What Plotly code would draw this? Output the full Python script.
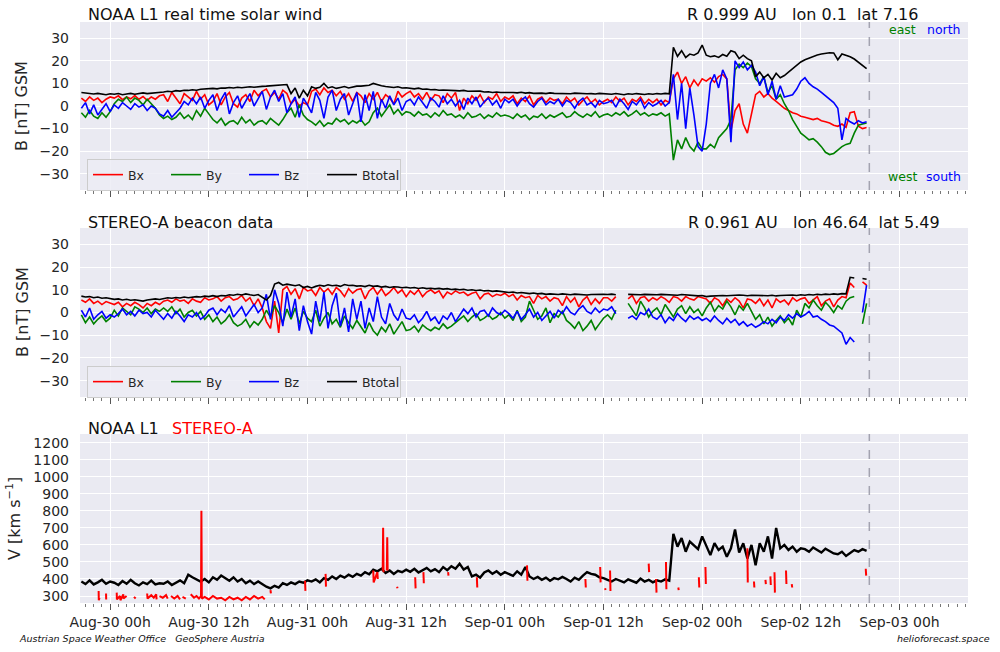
import pandas as pd
import plotly.graph_objects as go

W, H = 1000, 652
FONT = "DejaVu Sans"
TXT = "#262626"

# ---------------- time grid (30-min samples) ----------------
T_START = "2024-08-29 20:30"
N_SAMPLES = 192
NOW = "2024-09-02 20:20"
X_RANGE = ["2024-08-29 20:20", "2024-09-03 08:20"]

# ---------------- NOAA L1 magnetic field [nT] ----------------
noaa_bt = [6.0,5.8,5.5,5.3,5.6,5.2,5.0,5.4,
    5.2,5.5,5.0,5.3,5.6,5.2,5.4,5.8,5.5,5.6,5.9,6.0,
    6.2,6.5,6.3,6.8,6.6,7.0,6.9,7.2,7.0,7.4,7.6,7.5,
    7.8,7.6,8.0,7.9,8.2,8.0,8.3,8.1,8.4,8.5,8.3,8.6,
    8.7,8.8,9.0,8.9,9.2,9.4,9.5,5.5,8.0,3.5,7.0,4.5,
    8.5,7.8,8.3,10.0,8.0,8.5,7.8,8.2,8.6,8.0,8.4,8.8,
    8.8,9.0,9.2,10.0,9.4,9.0,8.6,8.4,8.2,8.5,8.0,8.1,
    7.8,7.6,7.9,7.4,7.5,7.2,7.3,7.0,7.1,6.9,7.0,6.8,
    6.7,6.9,6.5,6.6,6.4,6.6,6.2,6.3,6.0,6.2,6.0,6.1,
    5.9,6.0,5.8,6.1,5.7,5.9,5.6,5.8,5.7,5.5,5.8,5.6,
    5.5,5.7,5.6,5.4,5.7,5.5,5.6,5.4,5.5,5.3,5.6,5.5,
    5.4,5.2,5.5,5.3,5.0,5.4,5.2,5.5,5.3,5.1,5.4,5.2,
    5.5,5.3,5.6,5.4,26.0,22.0,24.5,21.5,23.0,22.5,23.5,27.0,
    22.5,21.8,22.2,21.5,22.8,22.0,24.5,23.8,21.0,22.5,21.0,20.0,
    13.0,15.0,12.5,14.0,11.5,14.5,12.5,13.5,15.0,16.5,18.0,19.5,
    20.5,21.3,22.0,22.6,23.0,23.4,23.6,23.5,20.5,23.0,22.5,21.8,
    20.8,19.5,18.0,16.5]

noaa_bx = [3.5,2.0,4.0,2.5,3.5,1.5,3.0,4.0,
    3.5,4.5,2.8,4.0,3.2,4.6,3.0,4.2,2.5,4.0,3.0,4.5,
    5.0,2.0,6.0,3.5,1.0,5.5,4.0,2.5,6.5,3.0,5.0,0.5,
    2.0,5.5,0.5,4.0,6.0,1.0,-0.5,3.5,5.0,2.0,7.0,4.5,
    6.5,7.5,4.0,6.0,3.0,7.0,5.5,1.0,3.0,0.0,1.5,0.5,
    6.5,7.5,5.0,8.0,6.0,7.0,4.5,6.5,3.0,5.5,2.0,6.0,
    4.5,1.5,5.5,3.0,6.0,2.0,5.0,3.5,1.0,6.5,4.0,5.5,
    6.5,4.0,5.5,3.0,6.0,2.5,5.0,4.5,1.5,5.5,3.5,6.0,
    -2.0,3.5,1.0,4.5,2.5,5.0,1.5,4.0,3.0,5.5,2.0,4.0,
    3.0,4.5,1.0,3.5,2.0,4.5,0.5,3.0,4.0,1.5,3.5,2.5,
    3.0,1.0,4.0,2.0,3.5,0.5,2.5,4.0,1.5,3.0,0.5,2.0,
    3.0,1.5,4.0,2.0,3.5,0.5,3.0,2.0,4.0,1.0,3.0,1.5,
    3.0,0.5,2.5,1.5,12.0,15.0,10.0,13.0,8.0,11.5,9.0,12.0,
    11.0,12.5,10.5,13.0,14.0,12.0,-11.0,-2.0,1.0,-8.0,-12.0,-4.0,
    5.0,6.5,4.0,5.5,3.5,2.0,0.5,-1.0,-2.0,-3.0,-3.5,-4.5,
    -5.0,-5.5,-6.0,-5.5,-6.5,-7.0,-7.5,-8.5,-9.0,-8.0,-9.5,-3.0,
    -2.5,-9.0,-10.0,-9.5]

noaa_by = [-3.0,-5.0,-2.0,-4.5,-5.5,-3.0,-5.0,-2.5,
    1.0,3.0,2.0,4.0,1.5,3.5,2.5,0.5,3.0,1.0,-1.0,-4.0,
    -5.5,-4.5,-6.0,-5.0,-3.0,-5.5,-4.0,-6.0,-2.0,-4.5,-1.0,-3.5,
    -6.0,-7.5,-5.5,-8.5,-7.0,-6.5,-8.0,-5.0,-7.5,-6.0,-8.5,-7.0,
    -6.5,-8.0,-5.5,-7.0,-8.5,-6.0,-3.0,-1.0,-5.0,0.5,-4.0,-6.0,
    -7.0,-8.5,-6.5,-9.0,-7.5,-8.0,-5.5,-7.0,-6.0,-8.0,-6.5,-7.5,
    -6.0,-8.5,-7.0,-3.0,-1.0,-4.5,-2.0,0.5,-3.5,-1.5,-4.0,-2.5,
    -3.0,-4.5,-2.5,-4.0,-3.5,-5.0,-3.0,-4.5,-2.0,-4.0,-3.5,-5.0,
    -4.0,-5.5,-3.0,-5.0,-4.5,-3.5,-5.5,-4.0,-5.0,-3.0,-4.5,-4.0,
    -4.5,-5.5,-3.5,-5.0,-4.0,-6.0,-4.5,-5.0,-3.5,-5.5,-4.0,-5.0,
    -4.0,-3.0,-5.0,-4.5,-2.5,-4.0,-5.0,-3.5,-4.5,-2.5,-5.0,-4.0,
    -3.5,-4.5,-3.0,-4.0,-2.5,-4.5,-3.5,-2.0,-4.0,-3.0,-4.5,-3.5,
    -4.0,-3.0,-4.5,-3.5,-24.0,-15.0,-19.0,-14.0,-18.0,-20.0,-16.0,-19.0,
    -19.0,-17.0,-18.5,-14.0,-12.0,-10.0,-6.0,16.0,18.5,17.0,19.0,17.5,
    12.0,10.0,13.0,6.0,9.0,3.0,5.0,1.0,-2.0,-6.0,-9.0,-12.0,
    -13.5,-15.0,-14.5,-16.0,-18.0,-20.5,-21.5,-21.0,-19.5,-18.0,-17.0,-16.5,
    -12.0,-8.5,-8.0,-7.5]

noaa_bz = [-1.0,1.5,-3.5,0.5,-4.0,-1.5,1.0,-2.5,
    0.5,-1.0,1.5,0.0,-1.5,1.0,-0.5,0.5,-2.0,0.0,-1.0,-3.5,
    -4.5,-2.0,-5.0,-3.0,-1.0,2.0,0.5,3.5,1.0,4.0,-1.0,2.5,
    5.0,-2.0,3.0,6.0,-3.5,1.5,4.5,-1.0,2.0,5.5,0.0,3.0,
    6.5,-1.5,4.0,7.0,2.0,5.5,-3.0,1.0,4.0,-5.0,3.5,0.5,
    -3.0,6.0,2.5,-5.5,4.0,7.0,-2.0,3.0,5.5,-4.0,1.5,6.0,
    -7.0,5.0,-2.0,6.5,-5.5,3.0,-1.0,4.5,0.5,3.5,-2.0,2.0,
    3.0,0.5,4.0,1.5,-1.0,3.5,2.0,-0.5,4.5,1.0,3.0,0.0,
    2.5,-1.5,3.5,1.0,4.0,-0.5,2.0,3.5,0.5,2.5,-1.0,3.0,
    1.5,3.0,0.0,2.5,4.0,1.0,-0.5,2.0,3.5,0.5,2.0,1.0,
    3.0,0.0,2.5,1.5,-1.0,2.0,3.5,0.5,1.5,-0.5,2.5,1.0,
    1.5,2.5,-0.5,3.0,1.0,-1.5,2.0,0.5,3.0,-1.0,1.5,0.0,
    1.0,2.5,0.0,1.5,14.0,-6.0,10.0,-10.0,8.0,-4.0,-18.0,-20.0,
    -8.0,10.0,14.0,8.0,16.0,12.0,-16.0,20.0,17.0,19.5,16.0,18.0,
    15.0,9.0,13.0,5.0,11.0,3.0,9.0,4.0,4.5,5.0,7.5,11.0,
    12.5,10.0,8.5,7.5,6.0,4.5,3.0,1.5,-1.0,-15.0,-5.5,-7.0,
    -8.0,-6.5,-7.5,-7.0]

# ---------------- STEREO-A beacon magnetic field [nT] ----------------
sta_bt = [7.2,6.8,7.0,6.5,6.8,6.3,6.5,6.0,
    5.8,6.0,5.5,5.8,5.4,5.6,5.2,5.0,5.5,5.8,6.0,5.7,
    6.2,6.5,6.3,6.6,6.4,6.8,6.5,6.7,7.0,6.8,7.2,7.0,
    7.4,7.0,7.5,7.3,7.8,7.6,8.0,7.7,8.2,7.8,7.5,7.9,
    6.5,5.5,7.5,12.5,13.2,12.0,12.5,12.2,11.8,12.2,11.0,11.5,
    10.8,11.5,12.0,11.6,12.2,11.8,12.0,11.5,12.3,11.9,12.0,11.6,
    11.8,11.4,12.0,11.5,11.7,11.2,11.5,11.0,11.3,11.2,10.9,11.1,
    10.8,11.0,10.6,10.9,10.5,10.7,10.4,10.6,10.3,10.5,10.1,10.3,
    10.0,10.2,9.8,10.0,9.7,9.9,9.5,9.7,9.3,9.5,9.2,9.0,
    8.8,9.0,8.6,8.8,8.5,8.3,8.6,8.2,8.4,8.0,8.2,8.1,
    7.9,8.2,8.0,7.8,8.1,7.9,8.0,7.7,7.9,8.0,7.8,8.0,
    7.9,8.1,7.8,None,None,8.0,7.9,8.1,7.8,8.0,7.9,7.7,
    7.8,8.0,7.9,8.1,7.8,7.6,7.9,7.7,7.5,7.6,7.3,7.5,
    7.0,7.2,7.4,7.3,7.5,7.4,7.6,7.5,7.7,7.6,7.4,7.6,
    7.5,7.7,7.6,7.4,7.6,7.3,7.5,7.6,7.4,7.7,7.5,7.8,
    7.6,7.9,7.7,8.0,7.8,8.1,7.9,8.2,8.0,8.3,8.2,15.5,
    15.2,None,15.0,14.6]

sta_bx = [5.5,4.5,6.0,4.0,5.0,3.5,4.8,4.0,
    3.5,4.5,2.5,4.0,3.0,4.5,3.5,2.0,4.0,3.0,4.5,3.5,
    5.0,5.5,4.5,6.0,5.0,5.5,4.0,6.0,5.0,4.5,6.5,5.5,
    6.0,7.0,5.0,6.5,7.0,5.5,6.0,7.5,5.0,6.5,3.0,6.0,
    2.0,-4.0,-7.0,5.0,-9.0,10.0,11.5,8.0,10.5,6.0,11.0,9.5,
    10.0,7.5,11.0,9.0,10.5,8.0,11.0,9.5,7.0,10.5,8.5,10.0,
    10.5,6.0,9.5,11.0,8.0,10.5,7.5,9.0,11.0,8.5,10.0,7.0,
    9.5,8.0,10.0,7.0,9.0,10.0,8.5,9.5,6.5,9.0,8.0,9.5,
    8.5,9.0,7.5,8.5,9.0,6.0,8.0,8.5,7.0,8.0,7.5,8.5,
    7.0,8.0,5.5,7.5,6.5,7.0,4.0,7.5,6.0,7.0,5.0,6.5,
    6.0,3.0,7.0,4.5,6.5,2.5,5.5,7.0,3.5,6.0,4.0,6.5,
    6.5,5.0,7.0,None,None,6.0,7.5,4.0,6.5,7.0,5.0,6.5,
    5.5,7.0,6.0,4.5,7.0,6.5,5.0,7.0,6.0,5.5,7.0,6.5,
    6.0,4.0,6.5,5.5,3.0,6.0,4.5,6.5,5.0,2.0,6.0,5.5,
    4.0,6.0,3.0,5.5,2.0,6.0,4.5,5.5,3.5,6.5,5.0,6.0,
    6.5,4.0,5.5,7.0,3.0,5.0,6.0,2.5,5.5,7.0,6.5,13.0,
    11.0,None,13.5,12.0]

sta_by = [-1.0,-4.5,-2.0,-5.0,-3.0,-1.5,-4.0,-2.5,
    1.0,-1.5,2.0,0.5,-1.0,2.5,1.5,0.0,2.0,-0.5,1.5,0.5,
    2.0,0.5,2.5,-0.5,1.5,-2.0,0.0,1.0,-1.5,0.5,-3.0,-1.0,
    -4.0,-2.0,-5.0,-3.5,-1.0,-4.5,-6.0,-5.0,-3.0,-6.5,-4.0,-5.5,
    -3.0,1.0,-2.0,3.0,0.0,-4.5,1.5,-3.0,2.0,-5.0,0.5,-2.5,
    -4.0,1.0,-6.0,-2.5,0.0,-5.0,-3.0,-6.5,-1.5,-4.5,-7.0,-3.5,
    -6.0,-9.0,-4.5,-8.0,-10.0,-6.5,-8.5,-5.0,-9.5,-7.0,-4.0,-8.0,
    -7.5,-6.0,-8.5,-5.5,-7.0,-8.0,-6.5,-7.5,-5.0,-7.0,-6.0,-4.5,
    -3.0,-1.5,-4.0,-2.0,-0.5,-3.5,-2.5,-1.0,-3.0,-2.0,0.0,-2.5,
    -1.0,-3.5,1.0,-4.0,-2.0,5.0,1.0,-3.0,-1.5,2.0,-4.5,-0.5,
    -2.0,0.5,-3.5,-5.0,-7.0,-4.0,-8.0,-6.0,-3.5,-7.5,-5.0,-2.5,
    -1.0,-3.0,1.0,None,None,4.0,1.0,-1.5,5.0,2.0,-2.0,0.5,
    2.0,-1.0,3.5,0.5,-2.0,1.5,3.0,-0.5,2.5,0.0,1.5,-1.5,
    2.0,4.5,0.5,3.0,1.5,5.0,2.5,-1.0,3.0,1.0,4.0,0.5,
    -3.0,-1.0,-5.0,-2.0,-6.0,-3.5,-1.5,-4.5,-2.5,-5.5,1.0,-2.0,
    4.0,2.0,5.5,3.0,1.0,4.5,2.5,0.0,3.0,1.5,5.0,6.5,
    7.0,None,-5.0,4.0]

sta_bz = [1.0,-2.0,2.0,-3.0,-1.0,0.5,-2.5,-1.0,
    -2.0,-0.5,1.5,-1.0,0.5,-1.5,1.0,-0.5,0.0,-2.0,1.0,-1.0,
    -3.0,-0.5,-2.5,0.5,-1.5,-4.0,-1.0,-2.0,0.0,-3.0,-1.5,1.0,
    2.0,-1.0,1.5,0.0,3.0,-2.0,0.5,2.5,-1.5,1.0,3.5,0.0,
    2.0,8.0,-3.0,10.0,4.0,-6.0,9.0,-2.0,6.0,-8.0,3.0,-4.0,
    -9.5,5.0,-4.0,9.0,-7.0,3.0,8.5,-6.0,2.0,-8.5,6.0,-3.0,
    5.0,-7.0,2.0,-4.0,7.0,-2.0,-5.0,4.0,-1.0,-3.5,1.5,-2.5,
    -3.0,-1.0,-4.5,-2.5,0.5,-3.5,-2.0,-5.0,-1.5,-3.0,0.0,-4.0,
    -1.0,1.5,-0.5,2.0,-2.0,0.5,1.0,-1.5,2.0,0.0,-1.0,1.0,
    -0.5,-2.5,0.5,-3.0,-1.0,1.5,-2.0,0.0,-3.5,-1.5,0.5,-2.5,
    1.0,-0.5,2.5,0.0,-1.0,1.5,3.0,0.5,-0.5,2.0,0.0,1.5,
    1.0,2.5,-0.5,None,None,-2.5,-1.5,-3.0,0.0,-1.0,1.5,-2.0,
    -3.0,-1.0,-4.5,-2.0,-3.5,-0.5,-2.5,-4.0,-1.5,-3.0,-2.0,-3.5,
    -2.5,-4.0,-1.5,-3.5,-5.0,-2.5,-4.5,-3.0,-5.5,-4.0,-6.0,-5.0,
    -6.5,-5.5,-4.0,-5.0,-3.0,-4.5,-2.0,-3.5,-1.0,-2.5,-0.5,-2.0,
    -1.0,0.5,-2.0,-1.5,-3.0,-4.0,-5.5,-6.0,-7.5,-9.0,-14.0,-11.0,
    -13.0,None,0.0,12.0]

# ---------------- solar wind speed [km/s] ----------------
noaa_v = [385,370,392,368,380,395,372,385,
    378,365,388,372,395,375,362,380,370,390,368,375,
    372,385,365,380,392,375,425,410,395,385,400,380,
    410,395,420,405,390,410,385,400,375,390,370,385,
    368,355,345,360,350,375,365,380,370,385,378,392,
    385,398,380,405,395,415,400,420,408,425,412,430,
    420,440,428,455,445,460,435,450,430,448,440,455,
    442,460,438,452,465,445,458,440,470,452,475,460,
    490,455,470,415,425,408,438,450,430,445,425,440,
    430,418,445,425,470,415,400,412,395,408,390,405,
    398,412,400,385,408,395,420,440,430,425,410,405,
    395,385,400,388,380,398,390,378,402,385,395,380,
    392,385,398,390,665,590,640,560,620,600,575,650,
    600,540,610,570,590,530,580,690,555,610,520,600,
    480,610,560,650,520,700,580,600,570,590,560,580,
    575,560,585,570,555,578,565,550,545,560,535,555,
    570,560,575,565]

# STEREO-A speed: sparse samples, hours after Aug-30 00:00 (None = data gap)
sta_v_hours = [-1.4,-1.38,-1.3,None,-0.5,-0.48,None,
    0.8,0.82,1.2,1.25,1.6,1.62,2.0,None,2.9,3.1,None,
    4.5,4.55,5.0,5.3,5.6,5.65,None,6.0,6.4,6.8,7.0,None,
    7.4,7.8,8.2,8.5,None,8.8,9.2,None,
    9.8,10.2,10.5,10.8,11.05,11.1,11.15,11.5,12.0,12.5,13.0,13.5,14.0,14.5,
    15.0,15.5,16.0,16.5,17.0,17.5,18.0,18.5,18.8,None,
    19.5,19.55,None,23.7,23.75,None,26.2,26.25,None,
    32.0,32.05,32.5,32.55,None,33.15,33.2,33.25,None,33.65,33.7,33.75,None,
    34.9,34.95,None,37.1,37.15,None,38.1,38.15,None,41.1,41.15,None,
    44.6,44.65,None,50.7,50.75,None,57.8,57.85,None,59.6,59.65,None,
    60.2,60.25,None,60.8,60.85,None,65.5,65.55,None,66.4,66.45,None,
    67.6,67.65,None,69.1,69.15,None,71.6,71.65,None,72.4,72.45,None,
    77.5,77.55,None,78.3,78.35,None,79.7,79.75,None,80.3,80.35,None,
    80.8,80.85,None,82.2,82.25,None,82.9,82.95,None,91.9,91.95]
sta_v = [330,275,290,None,315,280,None,
    320,280,300,275,310,285,300,None,295,285,None,
    315,285,305,290,310,280,None,300,290,305,285,None,
    300,285,300,280,None,295,285,None,
    310,290,300,285,300,800,285,295,280,300,285,290,275,295,
    280,290,275,295,280,300,285,295,280,None,
    335,315,None,390,330,None,430,355,None,
    450,380,440,400,None,450,700,440,None,450,645,450,None,
    355,345,None,410,345,None,440,375,None,440,420,None,
    410,350,None,480,390,None,400,350,None,470,380,None,
    345,335,None,450,330,None,490,440,None,400,320,None,
    500,340,None,350,335,None,410,350,None,470,370,None,
    580,380,None,385,350,None,395,370,None,415,365,None,
    440,320,None,450,370,None,370,350,None,460,420]

# ---------------- labels ----------------
component_names = ["Bx", "By", "Bz", "Btotal"]
component_colors = ["#ff0000", "#008000", "#0000ff", "#000000"]

for name, arr in [("noaa_bt", noaa_bt), ("noaa_bx", noaa_bx), ("noaa_by", noaa_by), ("noaa_bz", noaa_bz),
                  ("sta_bt", sta_bt), ("sta_bx", sta_bx), ("sta_by", sta_by), ("sta_bz", sta_bz), ("noaa_v", noaa_v)]:
    assert len(arr) == N_SAMPLES, (name, len(arr))
assert len(sta_v_hours) == len(sta_v), (len(sta_v_hours), len(sta_v))

times = pd.date_range(T_START, periods=N_SAMPLES, freq="30min")
base = pd.Timestamp("2024-08-30 00:00")
sta_v_times = [None if h is None else base + pd.Timedelta(hours=h) for h in sta_v_hours]

fig = go.Figure()

noaa_set = [noaa_bx, noaa_by, noaa_bz, noaa_bt]
sta_set = [sta_bx, sta_by, sta_bz, sta_bt]
for name, col, arr in zip(component_names, component_colors, noaa_set):
    fig.add_trace(go.Scatter(x=times, y=arr, mode="lines", name=name, legend="legend",
                             line=dict(color=col, width=1.6), xaxis="x", yaxis="y"))
for name, col, arr in zip(component_names, component_colors, sta_set):
    fig.add_trace(go.Scatter(x=times, y=arr, mode="lines", name=name, legend="legend2",
                             line=dict(color=col, width=1.6), xaxis="x2", yaxis="y2"))
fig.add_trace(go.Scatter(x=times, y=noaa_v, mode="lines", showlegend=False,
                         line=dict(color="#000000", width=2.4), xaxis="x3", yaxis="y3"))
fig.add_trace(go.Scatter(x=sta_v_times, y=sta_v, mode="lines", showlegend=False,
                         line=dict(color="#ff0000", width=2), xaxis="x3", yaxis="y3"))

def py(y):
    return 1 - y / H

xcommon = dict(type="date", range=X_RANGE, domain=[80 / W, 968 / W], automargin=False,
               tick0="2024-08-30 00:00", dtick=12 * 3600 * 1000,
               showgrid=True, gridcolor="white", gridwidth=1.2, zeroline=False, showline=False,
               ticks="outside", ticklen=6, tickwidth=1.2, tickcolor="#555555",
               minor=dict(dtick=3600 * 1000, ticks="outside", ticklen=3, tickwidth=1,
                          tickcolor="#777777", showgrid=False),
               tickformat="%b-%d %Hh", tickfont=dict(family=FONT, size=14, color=TXT))
ycommon = dict(showgrid=True, gridcolor="white", gridwidth=1.2, zeroline=False, showline=False,
               automargin=False, ticks="", ticklabelstandoff=10,
               tickfont=dict(family=FONT, size=14, color=TXT))

legend_common = dict(orientation="h", xanchor="left", yanchor="top",
                     bgcolor="rgba(236,236,244,0.85)", bordercolor="#cccccc", borderwidth=1,
                     font=dict(family=FONT, size=12.5, color=TXT),
                     entrywidth=33, entrywidthmode="pixels", itemwidth=30, traceorder="normal")

fig.update_layout(
    width=W, height=H, margin=dict(l=0, r=0, t=0, b=0, autoexpand=False),
    paper_bgcolor="white", plot_bgcolor="#EAEAF2",
    font=dict(family=FONT, color=TXT),
    xaxis=dict(xcommon, anchor="y", showticklabels=False),
    xaxis2=dict(xcommon, anchor="y2", showticklabels=False),
    xaxis3=dict(xcommon, anchor="y3", showticklabels=True),
    yaxis=dict(ycommon, domain=[py(190), py(22)], range=[-37.2, 37.2], tickvals=list(range(-30, 31, 10))),
    yaxis2=dict(ycommon, domain=[py(397), py(228)], range=[-37.2, 37.2], tickvals=list(range(-30, 31, 10))),
    yaxis3=dict(ycommon, domain=[py(603), py(434)], range=[259, 1251], tickvals=list(range(300, 1201, 100))),
    legend=dict(legend_common, x=87 / W, y=py(159)),
    legend2=dict(legend_common, x=87 / W, y=py(366)),
    showlegend=True,
)

# "now" marker
for xr, yref in [("x", "y domain"), ("x2", "y2 domain"), ("x3", "y3 domain")]:
    fig.add_shape(type="line", xref=xr, yref=yref, x0=NOW, x1=NOW, y0=0, y1=1,
                  line=dict(color="rgba(150,150,165,0.85)", width=1.5, dash="dash"))

def ann(text, x, y, size=16, color="#111111", xanchor="left", angle=0):
    fig.add_annotation(text=text, x=x / W, y=py(y), xref="paper", yref="paper",
                       xanchor=xanchor, yanchor="middle", showarrow=False, textangle=angle,
                       font=dict(family=FONT, size=size, color=color))

NB = "\u00a0"
ann("NOAA L1 real time solar wind", 86, 15)
ann("R 0.999 AU" + NB * 3 + "lon 0.1" + NB * 2 + "lat 7.16", 685, 15)
ann("STEREO-A beacon data", 86, 222)
ann("R 0.961 AU" + NB * 3 + "lon 46.64" + NB * 2 + "lat 5.49", 686, 222)
ann("NOAA L1", 86, 428)
ann("STEREO-A", 170, 428, color="#ff0000")
ann("east", 887, 30, size=12.5, color="#008000")
ann("north", 925, 30, size=12.5, color="#0000ff")
ann("west", 886, 176, size=12.5, color="#008000")
ann("south", 924, 176, size=12.5, color="#0000ff")
ann("B [nT] GSM", 22, 106, angle=-90, color=TXT, xanchor="center")
ann("B [nT] GSM", 22, 312, angle=-90, color=TXT, xanchor="center")
ann("V [km s<sup>\u22121</sup>]", 13, 519, angle=-90, color=TXT, xanchor="center")
ann("<i>Austrian Space Weather Office" + NB * 3 + "GeoSphere Austria</i>", 17, 638, size=9.5, color="#111111")
ann("<i>helioforecast.space</i>", 992, 638, size=9.5, color="#111111", xanchor="right")

fig.write_html("out.html", config={"displayModeBar": False},
               post_script="document.body.style.margin='0px';")
